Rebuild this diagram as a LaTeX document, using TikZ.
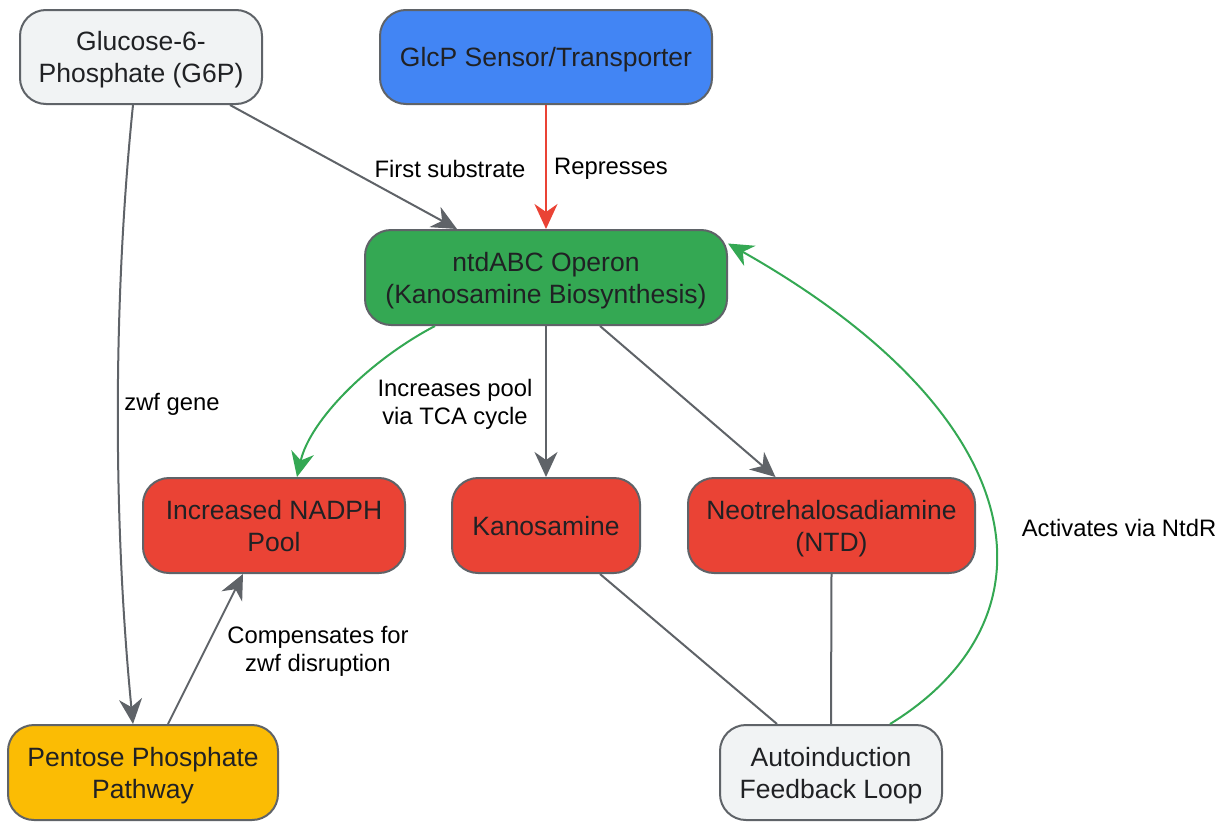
\documentclass[tikz,border=0pt]{standalone}
\usepackage{fontspec}
\setmainfont{Liberation Sans}
\usetikzlibrary{arrows.meta}
\definecolor{bord}{HTML}{5F6368}
\definecolor{txt}{HTML}{202124}
\definecolor{lgray}{HTML}{F1F3F4}
\definecolor{gblue}{HTML}{4285F4}
\definecolor{ggreen}{HTML}{34A853}
\definecolor{gred}{HTML}{EA4335}
\definecolor{gyellow}{HTML}{FBBC04}
\tikzset{
  box/.style={draw=bord, line width=2pt, rounded corners=26pt, text=txt, align=center,
    font=\fontsize{26.5}{32}\selectfont, inner sep=0pt, text depth=0pt},
  edge/.style={draw=bord, line width=2pt, -{Stealth[length=25pt,width=23pt,inset=8pt]}},
  plain/.style={draw=bord, line width=2pt},
  lbl/.style={text=black, align=center, font=\fontsize{23.8}{28}\selectfont, inner sep=1pt},
}
\begin{document}
\begin{tikzpicture}[x=1pt,y=-1pt]
\useasboundingbox (0,0) rectangle (1221,822);
\node[box, fill=lgray, minimum width=242pt, minimum height=94pt] (g6p) at (141,57) {Glucose-6-\\Phosphate (G6P)};
\node[box, fill=gblue, minimum width=332pt, minimum height=94pt] (glcp) at (546,57) {GlcP Sensor/Transporter};
\node[box, fill=ggreen, minimum width=362pt, minimum height=95pt] (ntd) at (546,277.5) {ntdABC Operon\\(Kanosamine Biosynthesis)};
\node[box, fill=gred, minimum width=262pt, minimum height=95pt] (nadph) at (274,525.5) {Increased NADPH\\Pool};
\node[box, fill=gred, minimum width=188pt, minimum height=95pt] (kan) at (546,525.5) {Kanosamine};
\node[box, fill=gred, minimum width=287pt, minimum height=95pt] (neo) at (831.5,525.5) {Neotrehalosadiamine\\(NTD)};
\node[box, fill=gyellow, minimum width=270pt, minimum height=95pt] (ppp) at (143,772.5) {Pentose Phosphate\\Pathway};
\node[box, fill=lgray, minimum width=222pt, minimum height=95pt] (auto) at (831,772.5) {Autoinduction\\Feedback Loop};

\draw[edge] ([xshift=89pt]g6p.south) -- ([xshift=-89pt]ntd.north);
\node[lbl] (l1) at (450,169) {First substrate};
\draw[edge, draw=gred, color=gred] (glcp.south) -- (ntd.north);
\node[lbl] (l2) at (611,169) {Represses};
\draw[edge] ([xshift=-8pt]g6p.south) .. controls (113,300) and (113,520) .. ([xshift=-10pt]ppp.north);
\node[lbl] (l3) at (172,404) {zwf gene};
\draw[edge, draw=ggreen, color=ggreen] ([xshift=-111pt]ntd.south) .. controls (370,360) and (310,420) .. ([xshift=23pt]nadph.north);
\node[lbl] (l4) at (455,404) {Increases pool\\via TCA cycle};
\draw[edge] (ntd.south) -- (kan.north);
\draw[edge] ([xshift=54pt]ntd.south) -- ([xshift=-56pt]neo.north);
\draw[edge] ([xshift=25pt]ppp.north) -- ([xshift=-31pt]nadph.south);
\node[lbl] (l5) at (318,651) {Compensates for\\zwf disruption};
\draw[plain] ([xshift=54pt]kan.south) -- ([xshift=-54pt]auto.north);
\draw[plain] (neo.south) -- (auto.north);
\draw[edge, draw=ggreen, color=ggreen] ([xshift=59pt]auto.north) .. controls (1060,620) and (1040,420) .. ([yshift=34pt]ntd.east);
\node[lbl] (l6) at (1119,528) {Activates via NtdR};
\end{tikzpicture}
\end{document}
